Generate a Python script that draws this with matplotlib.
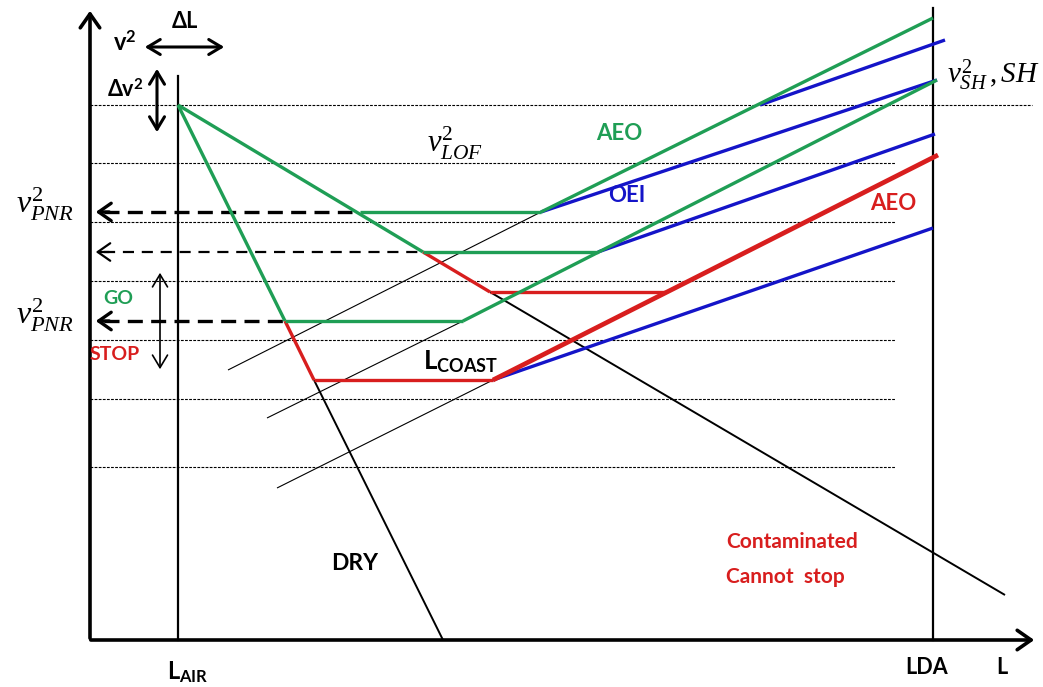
import matplotlib.pyplot as plt

plt.rcParams['mathtext.fontset'] = 'custom'
plt.rcParams['mathtext.rm'] = 'Liberation Serif'
plt.rcParams['mathtext.it'] = 'Liberation Serif:italic'
plt.rcParams['mathtext.bf'] = 'Lato:bold'

GREEN = '#1f9e55'
BLUE = '#1414c8'
RED = '#d81e1e'
SANS = ['Lato', 'DejaVu Sans']

# runway stations (L) and reference v^2 levels
L_AIR = 88
LDA = 843
L_END = 942
v2_top = 564
v2_ref = [535, 477, 418, 359, 300, 241, 173]

# stopping curves from the lift-off point: go-part, stop-part, rest
stop_contam_L = [88, 333, 400, 915]
stop_contam_v2 = [535, 388, 348, 45]
stop_dry_L = [88, 195, 224, 353]
stop_dry_v2 = [535, 319, 260, 0]

# coasting segments (start L, end L, v^2)
coast_green = [(270, 451, 428), (333, 508, 388), (195, 373, 319)]
coast_red = [(400, 575, 348), (224, 403, 260)]

# acceleration lines ((L0, v0), (L1, v1))
aeo_green = [((451, 428), (843, 622)), ((373, 319), (847, 560))]
aeo_red = [((403, 260), (848, 485))]
oei_blue = [((451, 428), (847, 560)), ((670, 535), (855, 600)),
            ((508, 388), (845, 506)), ((403, 260), (843, 412))]
guides = [((138, 270), (451, 428)), ((177, 222), (373, 319)),
          ((187, 152), (403, 260))]

# v_PNR arrows: level and where the dashes stop
pnr_v2 = [428, 388, 319]
pnr_end = [262, 333, 195]

fig = plt.figure(figsize=(10.43, 6.87), dpi=100)
ax = fig.add_axes([0, 0, 1, 1])
ax.set_xlim(-90, 953)
ax.set_ylim(-47, 640)
ax.axis('off')


def seg(p, q, **kw):
    ax.plot([p[0], q[0]], [p[1], q[1]], solid_capstyle='butt', **kw)


# dotted reference levels
for i, v in enumerate(v2_ref):
    ax.plot([0, L_END if i == 0 else 805], [v, v], color='black', lw=0.8,
            ls=(0, (2.5, 1.2)), zorder=1)

# thin guide lines
for p, q in guides:
    seg(p, q, color='black', lw=0.8, zorder=2)

# axes and runway markers
ax.annotate('', xy=(0, 632), xytext=(0, -1),
            arrowprops=dict(arrowstyle='->,head_length=0.5,head_width=0.35',
                            lw=2.6, color='black', mutation_scale=20))
ax.annotate('', xy=(947, 0), xytext=(-2, 0),
            arrowprops=dict(arrowstyle='->,head_length=0.5,head_width=0.35',
                            lw=2.6, color='black', mutation_scale=20))
ax.plot([L_AIR, L_AIR], [0, v2_top], color='black', lw=1.6)
ax.plot([LDA, LDA], [0, 632], color='black', lw=1.6)

# stopping curves
c = stop_contam_L, stop_contam_v2
d = stop_dry_L, stop_dry_v2
for xs, ys in (c, d):
    seg((xs[0], ys[0]), (xs[1], ys[1]), color=GREEN, lw=2.4, zorder=5)
    seg((xs[1], ys[1]), (xs[2], ys[2]), color=RED, lw=2.4, zorder=5)
    seg((xs[2], ys[2]), (xs[3], ys[3]), color='black', lw=1.4, zorder=3)

for l0, l1, v in coast_green:
    seg((l0, v), (l1, v), color=GREEN, lw=2.4, zorder=5)
for l0, l1, v in coast_red:
    seg((l0, v), (l1, v), color=RED, lw=2.4, zorder=5)

for p, q in oei_blue:
    seg(p, q, color=BLUE, lw=2.4, zorder=4)
for p, q in aeo_green:
    seg(p, q, color=GREEN, lw=2.4, zorder=5)
for p, q in aeo_red:
    seg(p, q, color=RED, lw=3.4, zorder=6)

# dashed v_PNR arrows back to the v^2 axis
for i, (v, l1) in enumerate(zip(pnr_v2, pnr_end)):
    thin = i == 1
    ax.plot([14, l1], [v, v], color='black', lw=1.6 if thin else 2.4,
            ls=(0, (5, 3.5)) if thin else (0, (4.5, 2.5)), zorder=4)
    ax.annotate('', xy=(3, v), xytext=(22, v),
                arrowprops=dict(arrowstyle='->,head_length=0.5,head_width=0.35',
                                lw=1.6 if thin else 2.4, color='black',
                                mutation_scale=18))

# delta arrows
dbl = dict(arrowstyle='<->,head_length=0.5,head_width=0.3', lw=2.2,
           color='black', mutation_scale=18)
ax.annotate('', xy=(52, 593), xytext=(137, 593), arrowprops=dbl)
ax.annotate('', xy=(67, 574), xytext=(67, 505), arrowprops=dbl)
ax.annotate('', xy=(70, 370), xytext=(70, 268),
            arrowprops=dict(dbl, lw=1.2))

# labels
bold = dict(family=SANS, fontweight='bold', ha='center', va='center')
v_sq = r'$\mathbf{v}^{\mathbf{2}}$'
ax.text(35, 596, v_sq, fontsize=17, ha='center', va='center')
ax.text(95, 619, 'ΔL', fontsize=15.5, **bold)
ax.text(35, 550, 'Δ' + v_sq, fontsize=15.5, **bold)
ax.text(28, 342, 'GO', fontsize=14, color=GREEN, **bold)
ax.text(25, 285, 'STOP', fontsize=14, color=RED, **bold)
ax.text(529, 507, 'AEO', fontsize=16, color=GREEN, **bold)
ax.text(537, 444, 'OEI', fontsize=16, color=BLUE, **bold)
ax.text(803, 437, 'AEO', fontsize=16, color=RED, **bold)
ax.text(265, 77, 'DRY', fontsize=16.5, **bold)
ax.text(636, 98, 'Contaminated', fontsize=15, color=RED,
        family=SANS, fontweight='bold', ha='left', va='center')
ax.text(636, 63, 'Cannot  stop', fontsize=15, color=RED,
        family=SANS, fontweight='bold', ha='left', va='center')
ax.text(837, -28, 'LDA', fontsize=15.5, **bold)
ax.text(912, -28, 'L', fontsize=15.5, **bold)
ax.text(98, -32, r'$\mathbf{L}_{\mathbf{AIR}}$', fontsize=17,
        ha='center', va='center')
ax.text(370, 278, r'$\mathbf{L}_{\mathbf{COAST}}$', fontsize=18.5,
        ha='center', va='center')

ax.text(-45, 436, r'$v^2_{PNR}$', fontsize=23, ha='center', va='center')
ax.text(-45, 325, r'$v^2_{PNR}$', fontsize=23, ha='center', va='center')
ax.text(365, 497, r'$v^2_{LOF}$', fontsize=22, ha='center', va='center')
ax.text(903, 565, r'$v^2_{SH}\,,SH$', fontsize=21, ha='center', va='center')

fig.savefig('out.png', dpi=100)
